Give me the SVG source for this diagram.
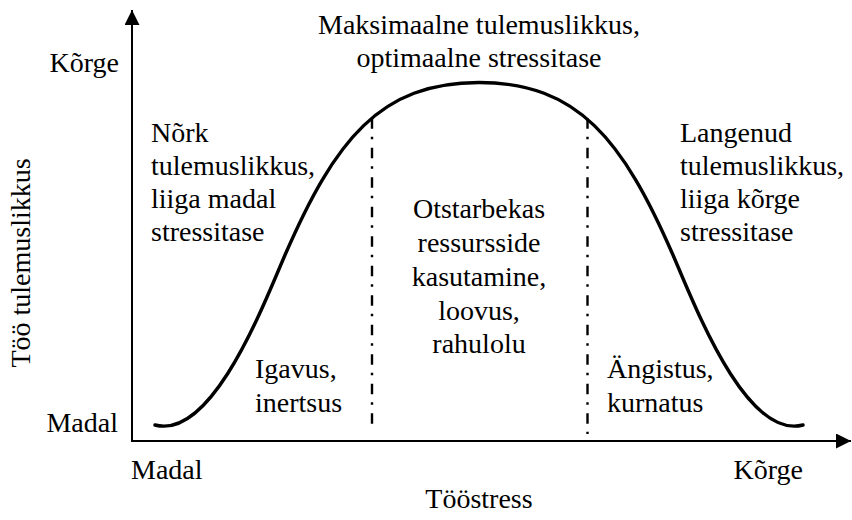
<svg xmlns="http://www.w3.org/2000/svg" width="852" height="520" viewBox="0 0 852 520">
<style>
.t{font-family:"Times New Roman","Liberation Serif",Tinos,serif;font-size:28px;fill:#000}
.m{text-anchor:middle}
.e{text-anchor:end}
.axis{stroke:#000;stroke-width:2;fill:none}
.dd{stroke:#000;stroke-width:2.4;fill:none;stroke-dasharray:10.5 8 2.5 8.5}
.curve{stroke:#000;stroke-width:3.4;fill:none;stroke-linecap:round}
</style>
<defs>
<marker id="ah" markerWidth="16" markerHeight="16" refX="15" refY="7.5" orient="auto" markerUnits="userSpaceOnUse">
<path d="M0,0 L15,7.5 L0,15 Z" fill="#000"/>
</marker>
</defs>
<rect width="852" height="520" fill="#fff"/>
<g id="connectors">
<line id="y-axis" class="axis" x1="132" y1="442" x2="132" y2="10" marker-end="url(#ah)"/>
<line id="x-axis" class="axis" x1="131" y1="441" x2="851" y2="441" marker-end="url(#ah)"/>
<path id="curve" class="curve" d="M155,425 C212,440 263,306 285,255 C335,140 380,82.5 479,82.5 C578,82.5 623,140 673,255 C695,306 746,440 803,425"/>
<line id="div-left" class="dd" x1="372" y1="118.3" x2="372" y2="424"/>
<line id="div-right" class="dd" x1="587.5" y1="118.3" x2="587.5" y2="434"/>
</g>
<g class="t">
<g id="axis-labels">
<text class="e" x="119" y="72">Kõrge</text>
<text class="e" x="118" y="432">Madal</text>
<text class="m" transform="translate(30,263) rotate(-90)">Töö tulemuslikkus</text>
<text x="131" y="479">Madal</text>
<text class="e" x="803" y="479">Kõrge</text>
<text class="m" x="479" y="508">Tööstress</text>
</g>
<g id="top-label">
<text class="m" x="479" y="34">Maksimaalne tulemuslikkus,</text>
<text class="m" x="479" y="67">optimaalne stressitase</text>
</g>
<g id="left-label">
<text x="151" y="142">Nõrk</text>
<text x="151" y="175">tulemuslikkus,</text>
<text x="151" y="208">liiga madal</text>
<text x="151" y="241">stressitase</text>
</g>
<g id="center-label">
<text class="m" x="479" y="218">Otstarbekas</text>
<text class="m" x="479" y="252">ressursside</text>
<text class="m" x="479" y="286">kasutamine,</text>
<text class="m" x="479" y="320">loovus,</text>
<text class="m" x="479" y="353">rahulolu</text>
</g>
<g id="right-label">
<text x="680" y="142">Langenud</text>
<text x="680" y="175">tulemuslikkus,</text>
<text x="680" y="208">liiga kõrge</text>
<text x="680" y="241">stressitase</text>
</g>
<g id="bottom-left-label">
<text x="255" y="378">Igavus,</text>
<text x="255" y="412">inertsus</text>
</g>
<g id="bottom-right-label">
<text x="607" y="378">Ängistus,</text>
<text x="607" y="412">kurnatus</text>
</g>
</g>
</svg>
